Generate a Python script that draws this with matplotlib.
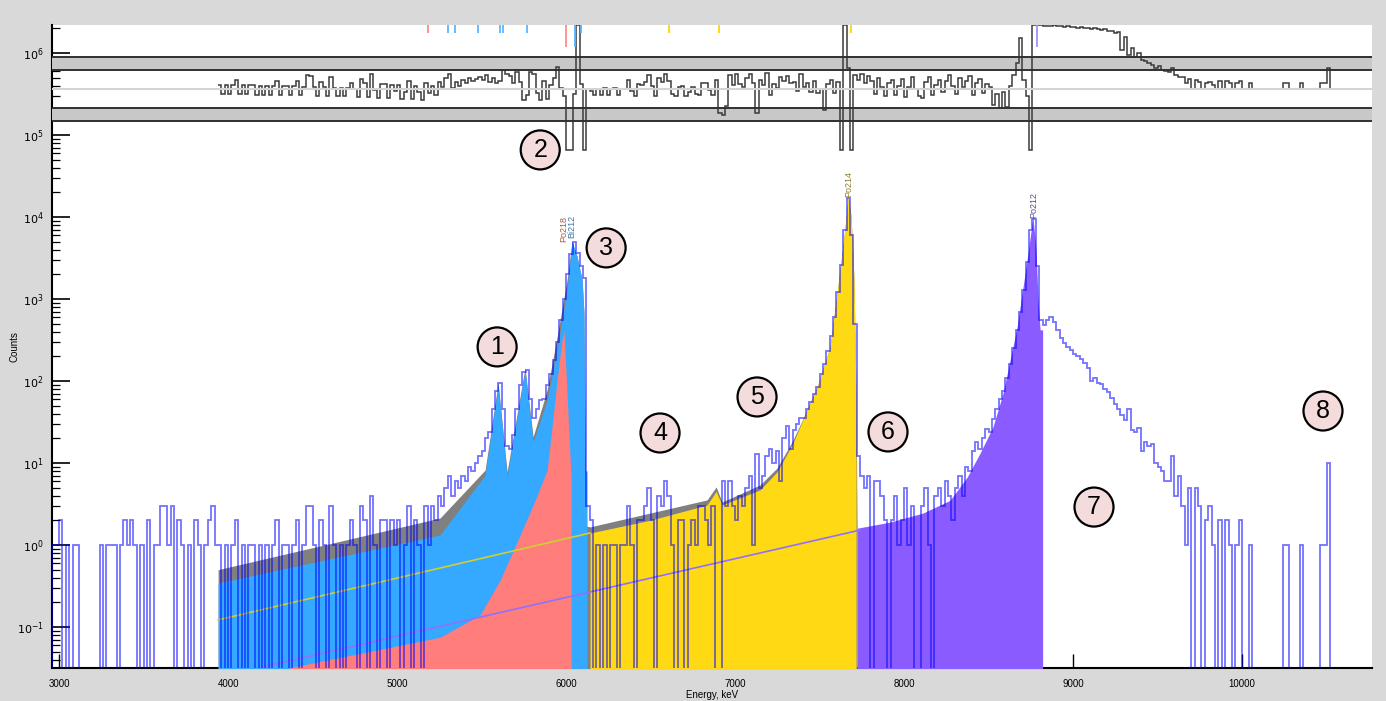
import numpy as np
import matplotlib
matplotlib.use("Agg")
import matplotlib.pyplot as plt
from matplotlib.ticker import LogLocator, FixedLocator, NullFormatter

plt.rcParams['font.family'] = ['Liberation Sans', 'DejaVu Sans']

# ---- measured spectrum, 20 keV bins starting at 2960 keV ----
bin_start = 2960
bin_width = 20
counts_lowbg = [1, 1, 2, 0, 1, 0, 1, 1, 0, 0, 0, 0, 0, 0, 1, 0, 1, 1, 1, 0,
                1, 2, 1, 2, 1, 0, 1, 0, 2, 0, 1, 1, 3, 3, 1, 3, 0, 2, 1, 0,
                1, 0, 2, 1, 0, 1, 2, 3, 1]
counts_bi212 = [1, 0, 1, 0, 1, 2, 0, 1, 0, 1, 1, 0, 1, 0, 1, 0, 1, 2, 0, 1,
                1, 0, 1, 2, 0, 1, 3, 3, 1, 0, 2, 1, 0, 3, 1, 0, 1, 0, 1, 2,
                1, 0, 3, 2, 0, 4, 1, 0, 2, 2, 0, 2, 1, 2, 0, 1, 3, 0, 2, 1,
                0, 3, 1]
counts_peaks = [3, 2, 4, 3, 5, 7, 4, 6, 5, 7, 6, 9, 8, 10, 12, 14, 20, 24, 45, 75,
                95, 45, 16, 15, 22, 45, 90, 130, 135, 60, 35, 45, 58, 60, 90, 120, 180, 300, 550, 1000,
                2000, 3500, 5000, 3600, 2500, 1800, 3]
counts_po214 = [2, 0, 1, 0, 1, 0, 1, 1, 0, 1, 1, 3, 1, 0, 2, 2, 3, 5, 2, 0,
                4, 3, 6, 4, 1, 0, 2, 2, 0, 1, 2, 1, 3, 3, 2, 1, 3, 0, 0, 6,
                3, 6, 3, 2, 4, 3, 5, 7, 1, 13, 5, 7, 12, 15, 10, 14, 6, 20, 28, 15,
                25, 30, 35, 35, 45, 55, 70, 85, 120, 160, 230, 350, 600, 1200, 2600, 7000, 17000, 6000, 500, 12]
counts_po212 = [7, 5, 7, 0, 6, 6, 4, 2, 0, 2, 4, 1, 2, 5, 1, 3, 0, 0, 3, 5,
                1, 0, 4, 5, 3, 6, 4, 2, 5, 7, 4, 9, 8, 14, 18, 15, 20, 26, 24, 34,
                45, 60, 75, 110, 160, 250, 420, 700, 1300, 2800, 7000, 9500, 2500, 550, 480]
counts_tail = [560, 600, 520, 420, 330, 290, 260, 240, 215, 200, 185, 165, 145, 100, 110, 95, 92, 80, 73, 62,
               52, 46, 38, 33, 45, 25, 24, 27, 14, 18, 16, 17, 10, 9, 8, 6, 6, 12, 4, 7,
               3, 1, 5, 0, 5, 3, 0, 2, 3, 1, 0, 2, 0, 2, 1, 0, 1, 2, 0, 0,
               1, 0, 0, 0, 0, 0, 0, 0, 0, 0, 1, 1, 0, 0, 0, 1, 0, 0, 0, 0,
               0, 1, 1, 10, 0, 0, 0, 0, 0, 0, 0, 0, 0]

# ---- fitted components (energy keV, counts) ----
total_e = [3941, 5254, 5521, 5598, 5651, 5757, 5805, 5888, 5947, 6006, 6035, 6065, 6095, 6106, 6118,
           6142, 6497, 6834, 6888, 6923, 7148, 7249, 7343, 7397, 7485, 7562, 7621, 7651, 7669, 7686,
           7704, 7716, 7722]
total_c = [0.50, 2.13, 8.2, 95, 7.8, 144, 20.8, 78, 345, 1700, 5000, 3300, 1700, 670, 1.7,
           1.66, 2.45, 3.54, 5.1, 3.34, 5.4, 8.7, 19, 33, 84, 260, 2250, 7500, 17500, 10500,
           1700, 58, 1.6]
bi212_e = [3941, 5254, 5521, 5598, 5651, 5757, 5805, 5888, 5947, 6006, 6035, 6065, 6095, 6106, 6112, 6124]
bi212_c = [0.344, 1.32, 7.1, 89, 6.9, 135, 18, 58, 238, 1290, 5000, 3300, 1700, 670, 8, 8]
po218_e = [4367, 5254, 5491, 5609, 5728, 5817, 5888, 5917, 5947, 5976, 5988, 6030]
po218_c = [0.032, 0.075, 0.14, 0.37, 1.32, 3.5, 8.2, 27.5, 103, 317, 400, 6.2]
po214_e = [6142, 6497, 6834, 6888, 6923, 7148, 7249, 7343, 7397, 7485, 7562, 7621, 7651, 7669, 7686, 7704, 7716]
po214_c = [1.4, 2.0, 3.07, 4.5, 3.07, 4.7, 7.8, 17.5, 32, 84, 260, 2250, 7500, 17500, 10500, 1700, 58]
po212_e = [7722, 7917, 8112, 8272, 8373, 8450, 8526, 8586, 8669, 8728, 8763, 8781, 8793, 8805, 8820]
po212_c = [1.6, 1.9, 2.45, 3.5, 6.7, 13.2, 27.5, 71, 456, 3000, 10000, 3900, 970, 420, 420]
po214_tail_e = [3941, 6142]
po214_tail_c = [0.122, 1.4]
po212_tail_e = [4130, 7740]
po212_tail_c = [0.030, 1.52]

# ---- residuals, 20 keV bins from 3940 keV ----
resid_start = 3940
resid_a = [0.4, -0.5, 0.4, -0.5, 0.4, 1.0, -0.5, 0.4, -0.5, 0.4, 0.4, -0.6, 0.3, -0.6, 0.3, -0.6, 0.3, 0.9, -0.6, 0.3,
           0.3, -0.6, 0.3, 0.9, -0.6, 0.2, 1.5, 1.4, 0.2, -0.7, 0.8, 0.2, -0.7, 1.3, 0.1, -0.8, 0.1, -0.8, 0.1, 0.7,
           0.0, -0.9, 1.1, 0.6, -0.9, 1.6, -0.1, -1.0, 0.5, 0.5, -1.0, 0.4, -0.2, 0.4, -1.1, -0.3, 0.9, -1.1, 0.3, -0.3,
           -1.2, 0.7, -0.4]
resid_b = [0.3, -0.6, 0.8, 0.2, 1.2, 1.6, 0.1, 0.8, 0.3, 1.0, 0.6, 1.2, 0.9, 1.1, 1.3, 1.0, 1.5, 0.8, 1.2, 0.6,
           0.9, 2.0, 1.6, 1.4, 0.7, 1.8, 0.8, -1.2, -0.6, 1.8, 1.6, -0.4, -1.2, 0.9, -1.1, 0.4, 1.2, 2.4, 0.1, -0.8,
           -6.6, -6.6, -0.5, 6.9, 0.5, -6.6, 0.0]
resid_c = [-0.2, -0.6, 0.0, -0.6, 0.1, -0.6, 0.0, 0.1, -0.6, 0.0, 0.0, 1.0, -0.2, -0.7, 0.5, 0.4, 0.8, 1.5, 0.3, -0.7,
           1.2, 0.8, 1.6, 0.9, -0.5, -0.8, 0.2, 0.3, -0.8, -0.3, 0.2, -0.5, -0.6, 0.6, 0.6, -0.1, -0.6, 1.0, -2.6, -2.8,
           -1.8, 1.5, 0.4, 1.6, 0.5, 0.2, 1.2, 1.6, 0.6, -2.6, 1.0, 0.4, 1.7, -0.6, 0.5, 0.1, 1.3, 0.9, 1.4, 0.6,
           0.8, -0.2, 1.6, 0.2, 0.6, -0.3, 0.9, -0.4, 0.0, -2.3, 0.5, 1.0, -0.4, 0.8, -6.6, 6.9, 2.3, -6.6, 1.5, 1.0]
resid_d = [1.6, 0.6, 1.4, 0.9, -0.5, 1.2, 0.2, -0.8, 0.6, 1.0, -0.6, 0.3, 1.1, -0.9, 0.2, 1.3, 0.0, -0.7, -1.0, 0.8,
           1.3, -0.6, 0.4, 1.0, -0.3, 0.9, 1.5, 0.3, -0.5, 1.2, 0.2, 0.9, 1.4, -0.6, 0.7, 1.1, -0.4, 0.5, 0.2, -1.7,
           -0.5, -2.0, -0.3, -1.9, 0.3, 1.5, 2.8, 5.5, 1.0, -0.8, -6.6, 6.9, 6.9, 6.9, 6.8]
resid_e = [6.8, 6.8, 6.9, 6.8, 6.8, 6.7, 6.8, 6.7, 6.7, 6.6, 6.7, 6.6, 6.6, 6.5, 6.6, 6.5, 6.4, 6.5, 6.3, 6.2,
           6.0, 6.1, 4.2, 5.6, 3.7, 4.4, 3.5, 3.9, 3.1, 3.0, 2.8, 2.6, 2.3, 2.5, 2.0, 1.9, 1.8, 2.3, 1.5, 1.3,
           1.3, 0.6, 1.1, 0.0, 1.0, 0.8, 0.0, 0.7, 0.8, 0.4, 0.0, 0.9, 0.0, 0.9, 0.6, 0.0, 0.6, 0.9, 0.0, 0.0,
           0.6, 0, 0, 0, 0, 0, 0, 0, 0, 0, 0.6, 0.6, 0, 0, 0, 0.6, 0, 0, 0, 0,
           0, 0.6, 0.6, 2.3, 0, 0]

# peak energy markers
marks_red = [5181, 6002]
marks_blue = [5302, 5340, 5481, 5607, 5626, 5768, 6051, 6090]
marks_yellow = [6610, 6902, 7687]
marks_purple = [8785]
long_marks = [6002, 6051, 8785]

peak_names = ['Po218', 'Bi212', 'Po214', 'Po212']
peak_name_e = [5988, 6035, 7675, 8769]
peak_name_c = [10**3.70, 10**3.74, 10**4.24, 10**3.99]
peak_name_col = ['#a9584a', '#3d76a8', '#8f7f28', '#5a4a9a']

circle_labels = ['1', '2', '3', '4', '5', '6', '7', '8']
circle_e = [5592, 5847, 6237, 6556, 7130, 7905, 9124, 10479]
circle_c = [260, 65600, 4190, 23.2, 63.8, 23.9, 2.9, 43]

# ---- figure ----
W, H = 1386, 701
fig = plt.figure(figsize=(W / 100, H / 100), dpi=100, facecolor='#d9d9d9')
ax = fig.add_axes([52 / W, 33 / H, 1320 / W, 643 / H])
ax.set_facecolor('white')
ax.set_yscale('log')
xmin, xmax = 2958, 10769
ax.set_xlim(xmin, xmax)
ax.set_ylim(10**-1.5, 10**6.34)

floor = 1e-3
ax.fill_between(total_e, total_c, floor, color='#808080', lw=0, zorder=3)
ax.fill_between(bi212_e, bi212_c, floor, color='#35a9ff', lw=0, zorder=3)
ax.fill_between(po218_e, po218_c, floor, color='#ff7d7b', lw=0, zorder=3)
ax.fill_between(po214_e, po214_c, floor, color='#ffda14', lw=0, zorder=3)
ax.fill_between(po212_e, po212_c, floor, color='#8a5cff', lw=0, zorder=3)
ax.plot(po214_tail_e, po214_tail_c, color='#cfcf30', lw=1.2, zorder=4)
ax.plot(po212_tail_e, po212_tail_c, color='#9070ff', lw=1.2, zorder=4)

counts = np.array(counts_lowbg + counts_bi212 + counts_peaks + counts_po214 + counts_po212 + counts_tail, float)
edges = bin_start + bin_width * np.arange(len(counts) + 1)
ax.stairs(np.where(counts > 0, counts, floor), edges, baseline=floor,
          color='blue', alpha=0.55, lw=1.3, zorder=5)

for name, e, c, col in zip(peak_names, peak_name_e, peak_name_c, peak_name_col):
    ax.text(e, c, name, rotation=90, ha='center', va='bottom', fontsize=6.5, color=col, zorder=6)

for lab, e, c in zip(circle_labels, circle_e, circle_c):
    ax.text(e, c, lab, fontsize=18, ha='center', va='center', zorder=8,
            bbox=dict(boxstyle='circle,pad=0.3', fc='#f3dcdb', ec='black', lw=1.6))

ax.spines['top'].set_visible(False)
ax.spines['right'].set_visible(False)
ax.spines['left'].set_linewidth(1.5)
ax.spines['bottom'].set_linewidth(1.5)
ax.yaxis.set_major_locator(FixedLocator([10.0**k for k in range(-1, 7)]))
ax.set_yticklabels(['$10^{%d}$' % k for k in range(-1, 7)])
ax.yaxis.set_minor_locator(LogLocator(base=10, subs=np.arange(2, 10), numticks=20))
ax.yaxis.set_minor_formatter(NullFormatter())
ax.set_xticks(np.arange(3000, 10001, 1000))
ax.tick_params(axis='y', which='major', direction='in', length=13, width=1.2, labelsize=8, pad=6)
ax.tick_params(axis='y', which='minor', direction='in', length=6, width=0.9)
ax.tick_params(axis='x', which='major', direction='in', length=10, width=1.0, labelsize=7, pad=8)
ax.set_ylabel('Counts', fontsize=7)
ax.yaxis.set_label_coords(-0.025, 0.5)
ax.set_xlabel('Energy, keV', fontsize=7, labelpad=1)

# ---- residual strip on top ----
axr = fig.add_axes([52 / W, (H - 154) / H, 1320 / W, 129 / H])
axr.patch.set_alpha(0)
for s in axr.spines.values():
    s.set_visible(False)
axr.set_xticks([])
axr.set_yticks([])
axr.set_xlim(xmin, xmax)
axr.set_ylim(-7.0, 6.9)
axr.axhspan(2.0, 3.45, color='#c8c8c8', lw=0)
axr.axhspan(-3.45, -2.0, color='#c8c8c8', lw=0)
for yv in [3.45, 2.0, -2.0, -3.45]:
    axr.axhline(yv, color='#303030', lw=1.4)
axr.axhline(0, color='#d4d4d4', lw=1.5)

resid = np.array(resid_a + resid_b + resid_c + resid_d + resid_e, float)
redges = resid_start + bin_width * np.arange(len(resid) + 1)
axr.stairs(resid, redges, baseline=None, color='#3a3a3a', lw=1.1)

for marks, col in [(marks_red, '#ff8a8a'), (marks_blue, '#5ab4ff'),
                   (marks_yellow, '#ffd400'), (marks_purple, '#a090ff')]:
    for e in marks:
        lo = 4.5 if e in long_marks else 6.0
        axr.vlines(e, lo, 6.9, color=col, lw=1.3)

fig.savefig('out.png', dpi=100, facecolor=fig.get_facecolor())
